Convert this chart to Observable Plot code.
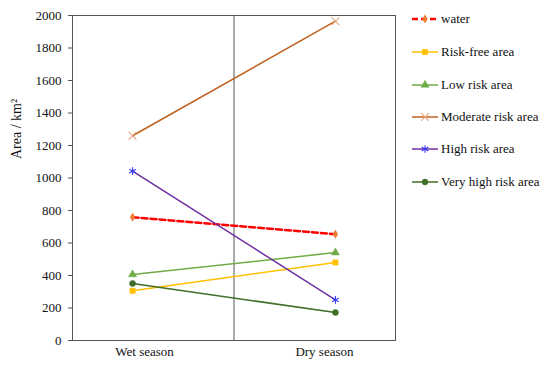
<!DOCTYPE html>
<html>
<head>
<meta charset="utf-8">
<script src="https://cdn.jsdelivr.net/npm/d3@7"></script>
<script src="https://cdn.jsdelivr.net/npm/@observablehq/plot@0.6"></script>
<style>
  html, body { margin: 0; padding: 0; background: #fff; }
  #wrap { position: relative; width: 550px; height: 366px; font-family: "Liberation Serif", "DejaVu Serif", serif; }
  #legend { position: absolute; left: 411px; top: 0; font-size: 13px; color: #111; font-family: "Liberation Serif", "DejaVu Serif", serif; }
  .row { position: absolute; left: 0; height: 16px; display: flex; align-items: center; white-space: nowrap; }
  .row svg { display: block; margin-right: 2px; }
  #chart svg text { font-family: "Liberation Serif", "DejaVu Serif", serif; }
</style>
</head>
<body>
<div id="wrap"><div id="chart"></div><div id="legend"></div></div>
<script>
const seasons = ["Wet season", "Dry season"];
const seriesNames = ["water", "Risk-free area", "Low risk area", "Moderate risk area", "High risk area", "Very high risk area"];
const water = [759, 654];
const riskFree = [306, 480];
const lowRisk = [406, 541];
const moderateRisk = [1260, 1965];
const highRisk = [1042, 250];
const veryHighRisk = [351, 172];
const yTicks = [0, 200, 400, 600, 800, 1000, 1200, 1400, 1600, 1800, 2000];
const yLabel = "Area / km\u00B2";

const seriesValues = [water, riskFree, lowRisk, moderateRisk, highRisk, veryHighRisk];
const styles = [
  {line: "#FF0000", marker: "#F07C30", symbol: "diamond", fill: true, width: 2.5, dash: "6,3", r: 2.5},
  {line: "#FFC000", marker: "#FFC000", symbol: "square", fill: true, width: 1.5, dash: null, r: 3.0},
  {line: "#70AD47", marker: "#70AD47", symbol: "triangle", fill: true, width: 1.5, dash: null, r: 3.0},
  {line: "#C0601E", marker: "#E8A47C", symbol: "times", fill: false, width: 1.5, dash: null, r: 3.6},
  {line: "#7030A0", marker: "#3A3AF0", symbol: "asterisk", fill: false, width: 1.5, dash: null, r: 3.6},
  {line: "#3E6E28", marker: "#3E6E28", symbol: "circle", fill: true, width: 1.5, dash: null, r: 3.0}
];

const rows = [];
seriesNames.forEach((name, s) => {
  seasons.forEach((season, i) => rows.push({series: name, s, i, season, value: seriesValues[s][i]}));
});
const pad = 0.296;
const mid = [(0 + (seasons.length - 1)) / 2];

const marks = [
  Plot.frame({stroke: "#555", strokeWidth: 1}),
  Plot.ruleX(mid, {stroke: "#555", strokeWidth: 1}),
  Plot.axisY({ticks: yTicks, tickSize: 4, tickPadding: 7, tickFormat: d => String(d), label: null, fontSize: 13, color: "#111", stroke: "#555"}),
  Plot.axisX([0], {tickSize: 0, tickPadding: 6, tickFormat: i => seasons[i], label: null, fontSize: 13, dx: 12, color: "#111"}),
  Plot.axisX([1], {tickSize: 0, tickPadding: 6, tickFormat: i => seasons[i], label: null, fontSize: 13, dx: -11, color: "#111"}),
  Plot.text([yLabel], {frameAnchor: "left", text: d => d, rotate: -90, dx: -56, dy: -19, fontSize: 14, fill: "#111"})
];
styles.forEach((st, s) => {
  const data = rows.filter(d => d.s === s);
  marks.push(Plot.line(data, {x: "i", y: "value", stroke: st.line, strokeWidth: st.width, strokeDasharray: st.dash}));
});
styles.forEach((st, s) => {
  const data = rows.filter(d => d.s === s);
  marks.push(Plot.dot(data, {x: "i", y: "value", symbol: () => st.symbol, r: st.r,
    fill: st.fill ? st.marker : "none", stroke: st.marker, strokeWidth: st.fill ? 0.5 : 1.1}));
});

const chart = Plot.plot({
  width: 550, height: 366,
  marginLeft: 72, marginRight: 155, marginTop: 15, marginBottom: 26,
  style: {fontFamily: "'Liberation Serif', 'DejaVu Serif', serif", fontSize: "13px", background: "#fff"},
  x: {type: "linear", domain: [-pad, seasons.length - 1 + pad], axis: null},
  y: {domain: [0, 2000], axis: null},
  symbol: {type: "identity"},
  marks
});
document.getElementById("chart").appendChild(chart);

// Legend
const legend = d3.select("#legend");
const symScale = {diamond: d3.symbolDiamond, square: d3.symbolSquare, triangle: d3.symbolTriangle, times: d3.symbolTimes, asterisk: d3.symbolAsterisk, circle: d3.symbolCircle};
const rowTops = [19, 52, 85, 117, 149, 182];
seriesNames.forEach((name, s) => {
  const st = styles[s];
  const row = legend.append("div").attr("class", "row").style("top", (rowTops[s] - 8) + "px");
  const svg = row.append("svg").attr("width", 28).attr("height", 16);
  svg.append("line").attr("x1", 1).attr("x2", 27).attr("y1", 8).attr("y2", 8)
    .attr("stroke", st.line).attr("stroke-width", st.width).attr("stroke-dasharray", st.dash);
  svg.append("path").attr("transform", "translate(14,8)")
    .attr("d", d3.symbol(symScale[st.symbol], Math.PI * st.r * st.r)())
    .attr("fill", st.fill ? st.marker : "none").attr("stroke", st.marker).attr("stroke-width", st.fill ? 0.5 : 1.1);
  row.append("span").text(name);
});
</script>
</body>
</html>
